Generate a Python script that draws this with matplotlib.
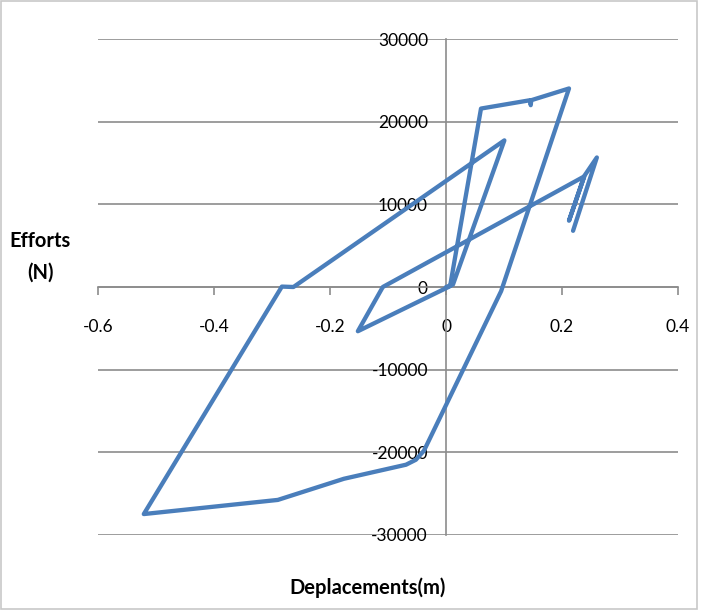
import numpy as np
import matplotlib.pyplot as plt
from matplotlib.patches import Rectangle

# Hysteresis loop (displacement in m, force in N)
deplacements = [0.0, 0.012, 0.1006, -0.263, -0.283, -0.521, -0.290, -0.176,
                -0.069, -0.052, -0.038, 0.095, 0.212, 0.147, 0.146, 0.145,
                0.0603, 0.007, -0.152, -0.109, 0.238, 0.212, 0.239, 0.26, 0.219]
efforts = [0, 300, 17740, 0, 50, -27470, -25760, -23200,
           -21500, -20900, -19800, -500, 24020, 22600, 22000, 22600,
           21590, 100, -5350, 0, 13370, 8020, 13500, 15670, 6800]

x_ticks = [-0.6, -0.4, -0.2, 0, 0.2, 0.4]
x_tick_labels = ['-0.6', '-0.4', '-0.2', '0', '0.2', '0.4']
y_ticks = [-30000, -20000, -10000, 0, 10000, 20000, 30000]

plt.rcParams['font.family'] = ['Lato', 'DejaVu Sans']
plt.rcParams['axes.unicode_minus'] = False
grey = '#8c8c8c'

fig = plt.figure(figsize=(7.1, 6.1), dpi=100)
ax = fig.add_axes([0.138, 0.123, 0.817, 0.813])

ax.plot(deplacements, efforts, color='#4a7ebb', lw=3.1,
        solid_joinstyle='round', solid_capstyle='round', zorder=3)

ax.set_xlim(-0.6, 0.4)
ax.set_ylim(-30000, 30000)
ax.set_xticks(x_ticks)
ax.set_xticklabels(x_tick_labels)
ax.set_yticks(y_ticks)

# axes cross at the origin, like the spreadsheet chart
ax.spines['left'].set_position(('data', 0))
ax.spines['bottom'].set_position(('data', 0))
ax.spines['top'].set_visible(False)
ax.spines['right'].set_visible(False)
for s in ['left', 'bottom']:
    ax.spines[s].set_color(grey)
    ax.spines[s].set_linewidth(1.2)

ax.yaxis.grid(True, color=grey, lw=1.2)
ax.set_axisbelow(True)
ax.tick_params(axis='x', direction='out', length=6, width=1.2, color=grey,
               pad=17, labelsize=12.5)
ax.tick_params(axis='y', length=0, pad=13, labelsize=12.5)

fig.text(0.057, 0.579, 'Efforts\n(N)', ha='center', va='center',
         fontsize=14.5, fontweight='bold', linespacing=1.75)
fig.text(0.517, 0.036, 'Deplacements(m)', ha='center', va='center',
         fontsize=14.5, fontweight='bold')

# light frame around the chart area
fig.patches.append(Rectangle((0.001, 0.001), 0.98, 0.998, transform=fig.transFigure,
                             fill=False, edgecolor='#c8c8c8', lw=1.2))

plt.savefig('out.png', dpi=100)
